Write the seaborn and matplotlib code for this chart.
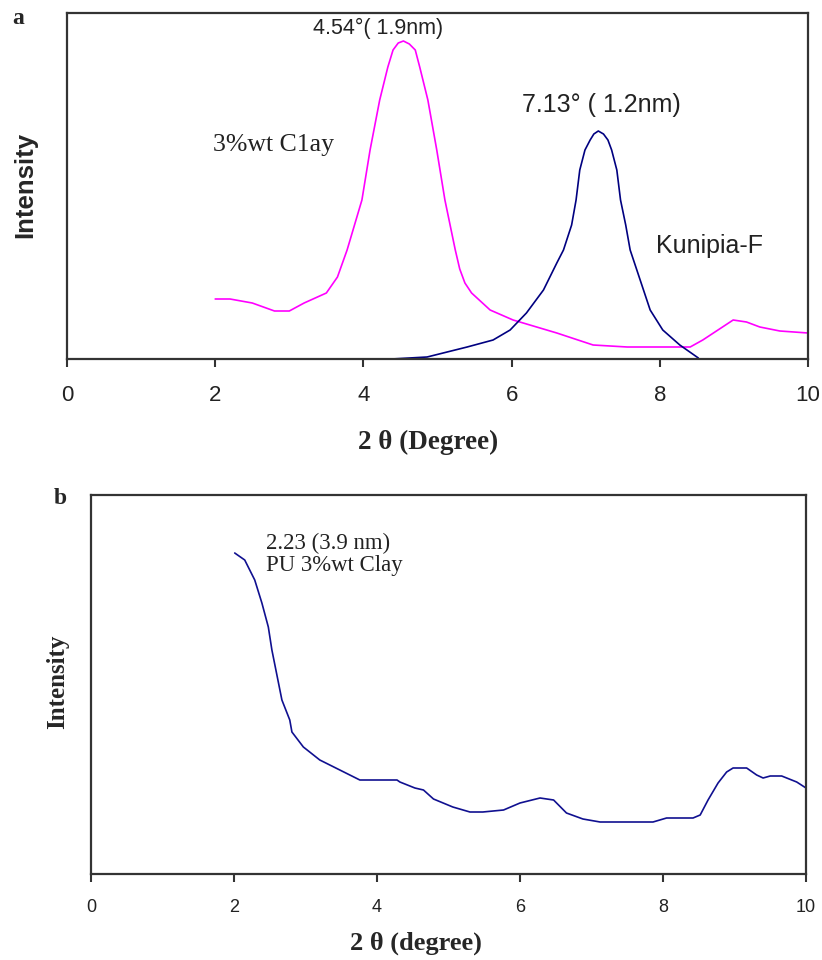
import pandas as pd
import matplotlib.pyplot as plt
import seaborn as sns

sns.set_theme(style="white")

# panel a: 3%wt clay (magenta)
clay_x = [2.0, 2.2, 2.5, 2.8, 3.0, 3.2, 3.5, 3.65, 3.78, 3.98, 4.09, 4.22, 4.33, 4.40, 4.47, 4.54,
          4.62, 4.70, 4.76, 4.87, 4.99, 5.10, 5.24, 5.30, 5.37, 5.46, 5.71, 6.02, 6.61, 7.1, 7.56,
          8.41, 8.58, 8.99, 9.17, 9.35, 9.62, 10.0]
clay_y = [60, 60, 56, 48, 48, 56, 66, 82, 109, 159, 209, 259, 292, 309, 316, 318,
          315, 309, 292, 259, 209, 159, 109, 90, 76, 66, 49, 39, 26, 14, 12,
          12, 19, 39, 37, 32, 28, 26]

# panel a: Kunipia-F (navy)
kun_x = [4.38, 4.86, 5.4, 5.75, 5.98, 6.2, 6.43, 6.61, 6.7, 6.81, 6.87, 6.92, 6.99, 7.06, 7.11,
         7.17, 7.24, 7.3, 7.35, 7.42, 7.47, 7.54, 7.6, 7.69, 7.78, 7.87, 8.04, 8.27, 8.52]
kun_y = [0, 2, 12, 19, 29, 46, 69, 96, 109, 134, 159, 189, 209, 219, 225,
         228, 225, 219, 209, 189, 159, 134, 109, 89, 69, 49, 29, 14, 1]

# panel b: PU 3%wt clay
pu_x = [2.01, 2.15, 2.29, 2.39, 2.48, 2.53, 2.67, 2.78, 2.81, 2.97, 3.2, 3.48, 3.76, 4.28,
        4.32, 4.53, 4.65, 4.79, 5.06, 5.3, 5.48, 5.77, 6.0, 6.28, 6.47, 6.65, 6.88, 7.12,
        7.86, 8.05, 8.42, 8.52, 8.63, 8.77, 8.89, 8.98, 9.17, 9.31, 9.4, 9.5, 9.66, 9.87, 10.0]
pu_y = [321, 314, 294, 271, 247, 224, 174, 154, 142, 127, 114, 104, 94, 94,
        92, 86, 84, 75, 67, 62, 62, 64, 71, 76, 74, 61, 55, 52,
        52, 56, 56, 59, 74, 91, 102, 106, 106, 99, 96, 98, 98, 92, 86]

ticks = [0, 2, 4, 6, 8, 10]

sans = 'Liberation Sans'
serif = 'Liberation Serif'
ink = '#222222'

fig = plt.figure(figsize=(8.22, 9.6), dpi=100)
ax1 = fig.add_axes([67/822, 1 - 359/960, 741/822, 346/960])
ax2 = fig.add_axes([91/822, 1 - 874/960, 715/822, 379/960])

sns.lineplot(x=clay_x, y=clay_y, ax=ax1, color='#FF00FF', linewidth=1.2, sort=False)
sns.lineplot(x=kun_x, y=kun_y, ax=ax1, color='#000080', linewidth=1.2, sort=False)
sns.lineplot(x=pu_x, y=pu_y, ax=ax2, color='#101090', linewidth=1.2, sort=False)

ax1.set_ylim(0, 346)
ax2.set_ylim(0, 379)

for ax, fs, pad in [(ax1, 16, 13), (ax2, 13, 12)]:
    ax.set_xlim(0, 10)
    ax.set_xticks(ticks)
    ax.set_xticklabels([str(t) for t in ticks], fontfamily=sans, fontsize=fs, color=ink)
    ax.set_yticks([])
    ax.tick_params(axis='x', direction='out', length=6, width=1.5, color='#333333',
                   pad=pad, bottom=True)
    for s in ax.spines.values():
        s.set_color('#333333')
        s.set_linewidth(1.6)

ax1.set_xlabel('2 θ (Degree)', fontfamily=serif, fontweight='bold', fontsize=19.5)
ax1.xaxis.set_label_coords(0.488, -0.242)
ax1.xaxis.label.set_va('center')
ax1.set_ylabel('Intensity', fontfamily=sans, fontweight='bold', fontsize=18.5)
ax1.yaxis.set_label_coords(-0.057, 0.503)
ax1.yaxis.label.set_va('center')

ax2.set_xlabel('2 θ (degree)', fontfamily=serif, fontweight='bold', fontsize=19)
ax2.xaxis.set_label_coords(0.455, -0.182)
ax2.xaxis.label.set_va('center')
ax2.set_ylabel('Intensity', fontfamily=serif, fontweight='bold', fontsize=18)
ax2.yaxis.set_label_coords(-0.046, 0.507)
ax2.yaxis.label.set_va('center')

ax1.text(4.2, 331, '4.54°( 1.9nm)', fontfamily=sans, fontsize=15.5, ha='center', va='center', color=ink)
ax1.text(7.21, 254, '7.13° ( 1.2nm)', fontfamily=sans, fontsize=18, ha='center', va='center', color=ink)
ax1.text(1.97, 214, '3%wt C1ay', fontfamily=serif, fontsize=18.5, ha='left', va='center', color=ink)
ax1.text(7.95, 113, 'Kunipia-F', fontfamily=sans, fontsize=18, ha='left', va='center', color=ink)

ax2.text(2.45, 331, '2.23 (3.9 nm)', fontfamily=serif, fontsize=16.4, ha='left', va='center', color=ink)
ax2.text(2.45, 309, 'PU 3%wt Clay', fontfamily=serif, fontsize=16.4, ha='left', va='center', color=ink)

fig.text(18/822, 1 - 19/960, 'a', fontfamily=serif, fontweight='bold', fontsize=17, ha='center', va='center')
fig.text(60/822, 1 - 498/960, 'b', fontfamily=serif, fontweight='bold', fontsize=17, ha='center', va='center')

fig.savefig('out.png', dpi=100)
